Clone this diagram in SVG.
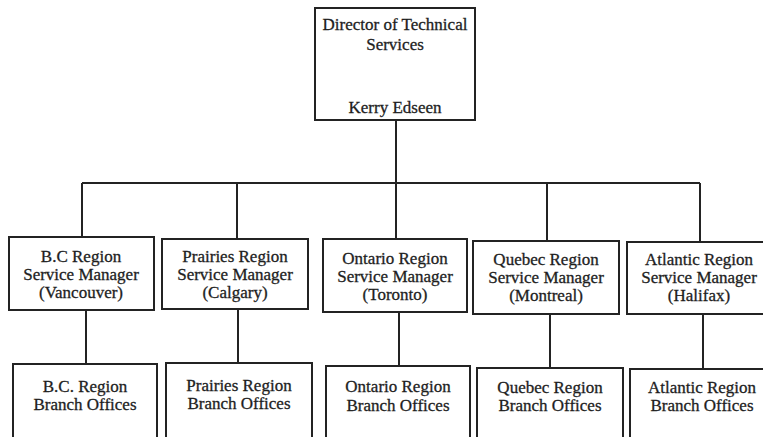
<svg xmlns="http://www.w3.org/2000/svg" width="763" height="437" viewBox="0 0 763 437">
  <style>
    .box { fill: #ffffff; stroke: #232323; stroke-width: 2; }
    .wire { fill: none; stroke: #232323; stroke-width: 2; }
    .lbl { font-size: 17px; fill: #1e1e1e; stroke: #1e1e1e; stroke-width: 0.3; text-anchor: middle; }
  </style>
  <rect width="763" height="437" fill="#ffffff"/>

  <!-- connectors -->
  <g id="connectors">
    <path class="wire" d="M396 120 V183"/>
    <path class="wire" d="M82 183 H700"/>
    <path class="wire" d="M82 183 V237"/>
    <path class="wire" d="M237 183 V239"/>
    <path class="wire" d="M396 183 V239"/>
    <path class="wire" d="M547 183 V241"/>
    <path class="wire" d="M700 183 V242"/>
    <path class="wire" d="M86 310 V364"/>
    <path class="wire" d="M238 309 V363"/>
    <path class="wire" d="M399 312 V366"/>
    <path class="wire" d="M550 314 V368"/>
    <path class="wire" d="M703 314 V369"/>
  </g>

  <g font-family="Liberation Serif, Times New Roman, DejaVu Serif, serif">
  <!-- head of department -->
  <g id="director">
    <rect class="box" x="315" y="8" width="160" height="112"/>
    <text class="lbl" x="395" y="30">Director of Technical</text>
    <text class="lbl" x="395" y="50">Services</text>
    <text class="lbl" x="395" y="113">Kerry Edseen</text>
  </g>

  <!-- regional managers -->
  <g id="bc-manager">
    <rect class="box" x="9" y="237" width="145" height="73"/>
    <text class="lbl" x="81" y="262">B.C Region</text>
    <text class="lbl" x="81" y="280">Service Manager</text>
    <text class="lbl" x="81" y="298">(Vancouver)</text>
  </g>
  <g id="prairies-manager">
    <rect class="box" x="162" y="239" width="146" height="70"/>
    <text class="lbl" x="235" y="262">Prairies Region</text>
    <text class="lbl" x="235" y="280">Service Manager</text>
    <text class="lbl" x="235" y="298">(Calgary)</text>
  </g>
  <g id="ontario-manager">
    <rect class="box" x="323" y="239" width="144" height="73"/>
    <text class="lbl" x="395" y="264">Ontario Region</text>
    <text class="lbl" x="395" y="282">Service Manager</text>
    <text class="lbl" x="395" y="300">(Toronto)</text>
  </g>
  <g id="quebec-manager">
    <rect class="box" x="473" y="241" width="146" height="73"/>
    <text class="lbl" x="546" y="265">Quebec Region</text>
    <text class="lbl" x="546" y="283">Service Manager</text>
    <text class="lbl" x="546" y="301">(Montreal)</text>
  </g>
  <g id="atlantic-manager">
    <rect class="box" x="627" y="242" width="143" height="72"/>
    <text class="lbl" x="699" y="265">Atlantic Region</text>
    <text class="lbl" x="699" y="283">Service Manager</text>
    <text class="lbl" x="699" y="301">(Halifax)</text>
  </g>

  <!-- branch offices -->
  <g id="bc-branches">
    <rect class="box" x="13" y="364" width="144" height="90"/>
    <text class="lbl" x="85" y="392">B.C. Region</text>
    <text class="lbl" x="85" y="410">Branch Offices</text>
  </g>
  <g id="prairies-branches">
    <rect class="box" x="166" y="363" width="146" height="90"/>
    <text class="lbl" x="239" y="391">Prairies Region</text>
    <text class="lbl" x="239" y="409">Branch Offices</text>
  </g>
  <g id="ontario-branches">
    <rect class="box" x="326" y="366" width="144" height="90"/>
    <text class="lbl" x="398" y="392">Ontario Region</text>
    <text class="lbl" x="398" y="411">Branch Offices</text>
  </g>
  <g id="quebec-branches">
    <rect class="box" x="477" y="368" width="146" height="90"/>
    <text class="lbl" x="550" y="393">Quebec Region</text>
    <text class="lbl" x="550" y="411">Branch Offices</text>
  </g>
  <g id="atlantic-branches">
    <rect class="box" x="630" y="369" width="140" height="90"/>
    <text class="lbl" x="702" y="393">Atlantic Region</text>
    <text class="lbl" x="702" y="411">Branch Offices</text>
  </g>
  </g>
</svg>
